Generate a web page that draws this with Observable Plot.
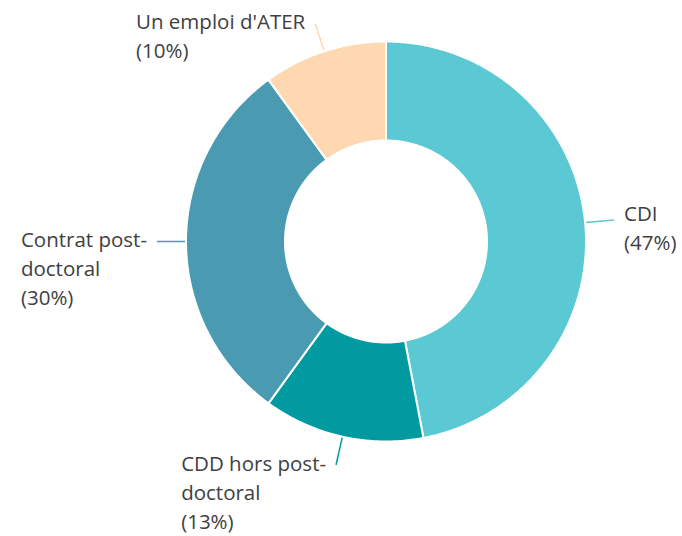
<!DOCTYPE html>
<html>
<head>
<meta charset="utf-8">
<script src="https://cdn.jsdelivr.net/npm/d3@7"></script>
<script src="https://cdn.jsdelivr.net/npm/@observablehq/plot@0.6"></script>
<style>
  html, body { margin: 0; padding: 0; background: #fff; }
</style>
</head>
<body>
<div id="chart"></div>
<script>
// Data (clockwise from 12 o'clock)
const categories = ["CDI", "CDD hors post-doctoral", "Contrat post-doctoral", "Un emploi d'ATER"];
const labelLines = [["CDI"], ["CDD hors post-", "doctoral"], ["Contrat post-", "doctoral"], ["Un emploi d'ATER"]];
const shares = [47, 13, 30, 10];
const colors = ["#5BC9D3", "#009AA0", "#4A9BB1", "#FDD8B0"];

// Layout constants
const W = 682, H = 536;
const cx = 385.5, cy = 241;
const rOuter = 200, rInner = 101, rLeader = 229;
const fontSize = 20.5;
const lineH = 29;
const font = "'Open Sans', sans-serif";

const ctx = document.createElement("canvas").getContext("2d");
ctx.font = `${fontSize}px 'Open Sans'`;

const total = d3.sum(shares);
let acc = 0;
const slices = shares.map((v, i) => {
  const a0 = acc / total * 2 * Math.PI;
  acc += v;
  const a1 = acc / total * 2 * Math.PI;
  return {cat: categories[i], value: v, a0, a1, mid: (a0 + a1) / 2, color: colors[i], lines: labelLines[i]};
});

const pt = (r, a) => ({x: r * Math.sin(a), y: r * Math.cos(a)});

const polys = slices.map(s => {
  const n = Math.max(8, Math.ceil((s.a1 - s.a0) / 0.01));
  const pts = [];
  for (let k = 0; k <= n; k++) pts.push(pt(rOuter, s.a0 + (s.a1 - s.a0) * k / n));
  for (let k = n; k >= 0; k--) pts.push(pt(rInner, s.a0 + (s.a1 - s.a0) * k / n));
  return pts.map(p => ({...p, cat: s.cat}));
});

const leaders = slices.map(s => {
  const p0 = pt(rOuter + 1, s.mid), p1 = pt(rLeader, s.mid);
  return {x1: p0.x, y1: p0.y, x2: p1.x, y2: p1.y, color: s.color};
});

const labels = slices.map(s => {
  const p = pt(rLeader, s.mid);
  const lines = [...s.lines, `(${Math.round(s.value / total * 100)}%)`];
  const w = d3.max(lines, l => ctx.measureText(l).width);
  const right = p.x > 0;
  return {x: p.x, y: p.y, text: lines.join("\n"), right, w};
});

const chart = Plot.plot({
  width: W,
  height: H,
  margin: 0,
  x: {domain: [-cx, W - cx], range: [0, W], axis: null},
  y: {domain: [-(H - cy), cy], range: [H, 0], axis: null},
  style: {fontFamily: font, background: "#fff"},
  marks: [
    ...polys.map((pts, i) => Plot.line(pts, {
      x: "x", y: "y", curve: "linear-closed",
      fill: slices[i].color, stroke: "#fff", strokeWidth: 2, strokeLinejoin: "round"
    })),
    Plot.link(leaders, {x1: "x1", y1: "y1", x2: "x2", y2: "y2", stroke: "color", strokeWidth: 1.5}),
    ...labels.map(d => Plot.text([d], {
      x: "x", y: "y", text: "text", textAnchor: "start", lineAnchor: "top",
      dx: d.right ? 10 : -(d.w + 10), dy: d.right ? -20 : -15,
      fontSize, lineHeight: lineH / fontSize, fill: "#404040"
    }))
  ]
});

document.getElementById("chart").appendChild(chart);
</script>
</body>
</html>
